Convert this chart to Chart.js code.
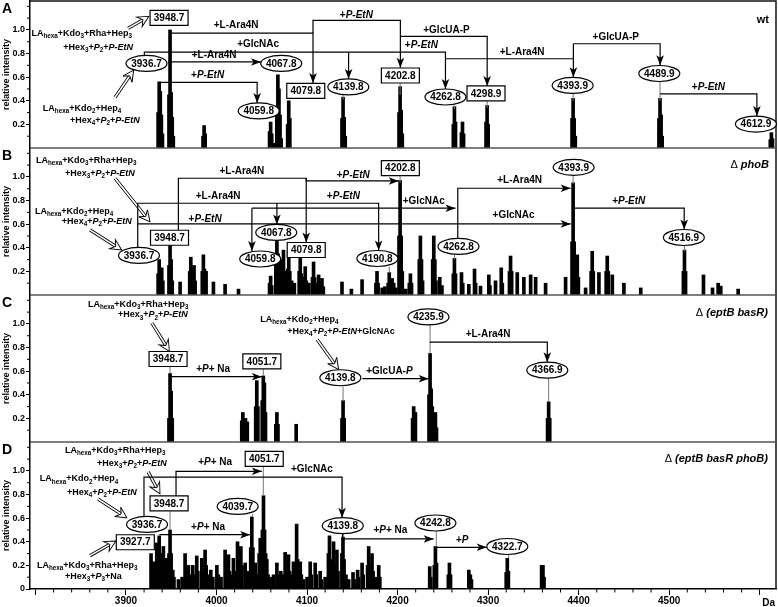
<!DOCTYPE html>
<html lang="en">
<head>
<meta charset="UTF-8">
<title>MALDI spectra A-D</title>
<script src="https://cdn.jsdelivr.net/npm/chart.js@4.4.7/dist/chart.umd.min.js"></script>
<style>
body { margin: 0; background: #fff; }
canvas { display: block; }
</style>
</head>
<body>
<canvas id="msChart" width="778" height="607"></canvas>
<script>
const FONT = "'Liberation Sans', Arial, Helvetica, sans-serif";

// axes
const xMin = 3794, xMax = 4618;
const xTicks = [3800, 3900, 4000, 4100, 4200, 4300, 4400, 4500, 4600];
const xTickLabels = ['', '3900', '4000', '4100', '4200', '4300', '4400', '4500', ''];
const xMinorStep = 20;
const yMax = 1.245;
const yTicks = [0.2, 0.4, 0.6, 0.8, 1.0];
const yMinorTicks = [0.1, 0.3, 0.5, 0.7, 0.9, 1.1, 1.2];
const panels = ['A', 'B', 'C', 'D'];

// peaks: mass (Da) and relative intensity
const massA = [3935.5, 3936.7, 3937.9, 3939.1, 3940.3, 3947.5, 3948.7, 3949.9, 3951.1, 3952.3,
  3985.1, 3986.3, 3987.5, 4058.6, 4059.8, 4061.0, 4063.0, 4066.6, 4067.8, 4069.0, 4070.2, 4071.4,
  4078.6, 4079.8, 4081.0, 4138.6, 4139.8, 4141.0, 4142.2, 4201.6, 4202.8, 4204.0, 4205.2,
  4261.6, 4262.8, 4264.0, 4270.5, 4271.7, 4272.9, 4297.7, 4298.9, 4300.1,
  4392.7, 4393.9, 4395.1, 4396.3, 4488.7, 4489.9, 4491.1, 4492.3, 4611.7, 4612.9, 4614.1];
const intA = [0.30, 0.56, 0.48, 0.28, 0.12, 0.45, 1.00, 0.47, 0.26, 0.10,
  0.10, 0.19, 0.12, 0.14, 0.22, 0.12, 0.04, 0.30, 0.62, 0.50, 0.28, 0.08,
  0.20, 0.40, 0.25, 0.25, 0.43, 0.26, 0.10, 0.30, 0.52, 0.32, 0.12,
  0.20, 0.35, 0.22, 0.13, 0.22, 0.12, 0.22, 0.36, 0.20,
  0.25, 0.42, 0.25, 0.10, 0.25, 0.42, 0.28, 0.10, 0.07, 0.13, 0.08];

const massB = [3935.5, 3936.7, 3937.9, 3939.5, 3940.7, 3947.5, 3948.7, 3949.9, 3951.1, 3959.8,
  3970.4, 3971.6, 3972.8, 3975.2, 3976.4, 3984.3, 3985.5, 3986.7, 3988.5, 3996.6, 4009.5, 4024.3,
  4058.6, 4059.8, 4061.0, 4065.5, 4066.7, 4067.9, 4070.4, 4072.0, 4074.0, 4075.2, 4078.6, 4079.8, 4081.0,
  4083.0, 4086.0, 4091.3, 4092.5, 4093.7, 4096.8, 4098.0, 4099.2, 4102.0, 4106.0, 4107.2, 4108.4,
  4111.6, 4112.8, 4114.0, 4116.5, 4118.0, 4138.6, 4149.0, 4160.8, 4176.1, 4177.3, 4178.5, 4183.0, 4186.0,
  4189.6, 4190.8, 4192.0, 4194.0, 4195.7, 4198.0, 4201.6, 4202.8, 4204.0, 4205.2,
  4209.0, 4213.0, 4214.2, 4215.4, 4224.0, 4225.2, 4226.4, 4227.6, 4238.8, 4240.0, 4241.2, 4242.4,
  4246.6, 4249.0, 4261.6, 4262.8, 4264.0, 4270.6, 4272.0, 4278.7, 4285.0, 4286.2, 4291.6,
  4300.8, 4302.0, 4308.2, 4314.5, 4315.7, 4323.6, 4324.8, 4326.0, 4332.2, 4339.5, 4347.0, 4352.5, 4363.5,
  4385.6, 4392.7, 4393.9, 4395.1, 4398.5, 4399.7, 4407.7, 4413.8, 4415.0, 4416.2, 4422.4,
  4430.4, 4431.6, 4432.8, 4437.2, 4450.0, 4468.6, 4515.7, 4516.9, 4518.1, 4537.9, 4547.9, 4554.1, 4557.0, 4576.2];
const intB = [0.18, 0.30, 0.22, 0.23, 0.12, 0.25, 0.42, 0.30, 0.12, 0.11,
  0.20, 0.32, 0.22, 0.25, 0.12, 0.20, 0.34, 0.22, 0.20, 0.11, 0.09, 0.05,
  0.10, 0.16, 0.08, 0.30, 0.48, 0.35, 0.30, 0.20, 0.38, 0.20, 0.22, 0.37, 0.20,
  0.12, 0.10, 0.20, 0.31, 0.18, 0.15, 0.24, 0.12, 0.10, 0.15, 0.28, 0.15,
  0.10, 0.17, 0.10, 0.14, 0.07, 0.11, 0.05, 0.13, 0.10, 0.20, 0.10, 0.06, 0.07,
  0.10, 0.19, 0.10, 0.14, 0.10, 0.06, 0.50, 0.97, 0.50, 0.20,
  0.05, 0.10, 0.18, 0.10, 0.30, 0.50, 0.30, 0.12, 0.30, 0.50, 0.30, 0.12,
  0.15, 0.08, 0.18, 0.31, 0.18, 0.19, 0.10, 0.09, 0.22, 0.10, 0.075,
  0.17, 0.08, 0.12, 0.23, 0.10, 0.20, 0.33, 0.20, 0.19, 0.15, 0.17, 0.15, 0.10,
  0.15, 0.45, 0.95, 0.45, 0.34, 0.15, 0.06, 0.20, 0.37, 0.20, 0.19,
  0.20, 0.33, 0.20, 0.17, 0.10, 0.06, 0.20, 0.38, 0.20, 0.17, 0.06, 0.10, 0.075, 0.05];

const massC = [3947.5, 3948.7, 3949.9, 3951.1, 4027.9, 4029.1, 4030.3, 4032.0, 4034.0,
  4043.3, 4044.5, 4045.7, 4050.5, 4051.7, 4052.9, 4054.1, 4065.5, 4066.7, 4067.9, 4088.0,
  4138.6, 4139.8, 4141.0, 4216.6, 4217.8, 4219.7, 4234.7, 4235.9, 4237.1, 4238.3, 4240.5, 4241.8, 4243.0,
  4365.7, 4366.9, 4368.1];
const intC = [0.20, 0.58, 0.43, 0.20, 0.18, 0.25, 0.15, 0.20, 0.17,
  0.30, 0.52, 0.30, 0.35, 0.56, 0.50, 0.25, 0.15, 0.25, 0.15, 0.15,
  0.20, 0.35, 0.20, 0.20, 0.30, 0.25, 0.40, 0.75, 0.45, 0.30, 0.20, 0.25, 0.12,
  0.20, 0.34, 0.20];

const massD = [3927.7, 3929.0, 3930.3, 3932.0, 3934.0, 3935.2, 3936.7, 3937.9, 3939.5, 3941.3, 3942.5,
  3945.0, 3946.2, 3947.5, 3948.7, 3949.9, 3951.7, 3953.0, 3958.0, 3962.0,
  3965.3, 3966.5, 3969.0, 3971.0, 3973.8, 3975.0, 3978.2, 3979.4, 3983.8, 3985.0, 3987.4, 3988.6,
  3990.5, 3993.7, 3996.0, 4000.4, 4002.0, 4005.0, 4009.5, 4010.7, 4013.2, 4014.4, 4016.0, 4018.7, 4020.0,
  4023.2, 4024.4, 4026.9, 4028.1, 4031.7, 4033.0, 4035.0, 4037.8, 4039.0, 4040.2, 4042.7, 4044.0,
  4047.1, 4048.3, 4049.5, 4050.7, 4051.9, 4053.1, 4054.3, 4055.6, 4057.0,
  4060.0, 4063.0, 4066.7, 4068.0, 4071.0, 4073.0, 4075.8, 4077.0, 4079.5, 4080.7, 4082.0,
  4085.0, 4086.2, 4088.5, 4089.7, 4092.5, 4093.7, 4096.0, 4100.0, 4103.5, 4104.7, 4109.0, 4110.2,
  4114.5, 4116.0, 4120.0, 4123.6, 4124.8, 4126.0, 4129.3, 4130.5, 4133.0, 4134.2,
  4138.5, 4139.7, 4140.9, 4143.0, 4146.0, 4150.8, 4152.0, 4155.9, 4157.0, 4160.8, 4162.0,
  4166.9, 4168.1, 4169.3, 4171.8, 4173.0, 4176.0, 4179.2, 4180.4,
  4235.5, 4236.7, 4240.6, 4241.8, 4243.0, 4256.1, 4257.3, 4258.5, 4278.7, 4280.4, 4281.6,
  4320.0, 4321.2, 4322.4, 4359.1, 4360.6, 4361.8];
const intD = [0.30, 0.20, 0.23, 0.15, 0.39, 0.25, 0.45, 0.30, 0.20, 0.36, 0.20,
  0.26, 0.15, 0.30, 0.50, 0.30, 0.16, 0.10, 0.08, 0.10,
  0.30, 0.18, 0.20, 0.12, 0.20, 0.12, 0.28, 0.15, 0.26, 0.15, 0.33, 0.20,
  0.12, 0.16, 0.10, 0.20, 0.12, 0.10, 0.33, 0.20, 0.29, 0.15, 0.12, 0.26, 0.15,
  0.40, 0.25, 0.36, 0.20, 0.22, 0.12, 0.15, 0.35, 0.61, 0.35, 0.22, 0.12,
  0.30, 0.43, 0.30, 0.50, 0.79, 0.50, 0.30, 0.25, 0.12,
  0.10, 0.12, 0.22, 0.12, 0.15, 0.12, 0.31, 0.18, 0.29, 0.15, 0.12,
  0.23, 0.12, 0.55, 0.25, 0.23, 0.12, 0.08, 0.10, 0.23, 0.12, 0.22, 0.12,
  0.15, 0.08, 0.10, 0.30, 0.45, 0.25, 0.40, 0.20, 0.33, 0.15,
  0.30, 0.44, 0.25, 0.12, 0.08, 0.14, 0.08, 0.16, 0.10, 0.22, 0.12,
  0.20, 0.36, 0.20, 0.30, 0.15, 0.10, 0.20, 0.10,
  0.19, 0.10, 0.20, 0.36, 0.22, 0.12, 0.22, 0.12, 0.16, 0.12, 0.08,
  0.14, 0.26, 0.15, 0.20, 0.20, 0.10];

// annotations, in (mass, intensity) of their own panel
// mass tags: [text, shape, mass, intensity]
const tagsA = [['3948.7', 'box', 3947.6, 1.102], ['3936.7', 'oval', 3922.7, 0.716], ['4067.8', 'oval', 4071.5, 0.716],
  ['4059.8', 'oval', 4046.6, 0.314], ['4079.8', 'box', 4098.6, 0.483], ['4139.8', 'oval', 4145.6, 0.517],
  ['4202.8', 'box', 4203.1, 0.614], ['4262.8', 'oval', 4252.9, 0.432], ['4298.9', 'box', 4297.7, 0.462],
  ['4393.9', 'oval', 4393.4, 0.530], ['4489.9', 'oval', 4489.1, 0.631], ['4612.9', 'oval', 4595.8, 0.203]];
const tagsB = [['3936.7', 'oval', 3914.4, 0.335], ['3948.7', 'box', 3948.1, 0.485], ['4067.8', 'oval', 4066.0, 0.530],
  ['4059.8', 'oval', 4048.3, 0.305], ['4079.8', 'box', 4099.1, 0.381], ['4190.8', 'oval', 4177.7, 0.309],
  ['4202.8', 'box', 4203.1, 1.074], ['4262.8', 'oval', 4267.3, 0.411], ['4393.9', 'oval', 4394.5, 1.081],
  ['4516.9', 'oval', 4516.2, 0.487]];
const tagsC = [['3948.7', 'box', 3946.5, 0.703], ['4051.7', 'box', 4050.1, 0.682], ['4139.8', 'oval', 4136.8, 0.544],
  ['4235.9', 'oval', 4234.1, 1.059], ['4366.9', 'oval', 4365.4, 0.608]];
const tagsD = [['3936.7', 'oval', 3923.3, 0.547], ['3948.7', 'box', 3947.6, 0.725], ['3927.7', 'box', 3910.3, 0.396],
  ['4051.7', 'box', 4052.7, 1.102], ['4039.7', 'oval', 4023.4, 0.699], ['4139.8', 'oval', 4139.5, 0.536],
  ['4242.8', 'oval', 4241.8, 0.559], ['4322.7', 'oval', 4321.2, 0.360]];

// connectors: [points, arrow at end]
const linksA = [
  [[[3948.7, 0.973], [4106.6, 0.973], [4106.6, 0.55]], true],
  [[[4106.6, 0.973], [4106.6, 1.081], [4203.1, 1.081], [4203.1, 0.68]], true],
  [[[3920.3, 0.784], [3920.3, 0.812], [4252.9, 0.812], [4252.9, 0.50]], true],
  [[[4145.9, 0.812], [4145.9, 0.585]], true],
  [[[4203.1, 0.945], [4299.0, 0.945], [4299.0, 0.526]], true],
  [[[4252.9, 0.756], [4394.2, 0.756]], false],
  [[[4394.2, 0.883], [4394.2, 0.60]], true],
  [[[4394.2, 0.883], [4490.0, 0.883], [4490.0, 0.70]], true],
  [[[4490.0, 0.459], [4596.9, 0.459], [4596.9, 0.271]], true],
  [[[3936.7, 0.555], [4044.9, 0.555], [4044.9, 0.382]], true],
  [[[3946.5, 0.729], [4049.2, 0.729]], true]];
const linksB = [
  [[[3957.9, 0.549], [3957.9, 0.989], [4099.1, 0.989], [4099.1, 0.445]], true],
  [[[4099.1, 0.989], [4099.1, 0.966], [4201.3, 0.966]], true],
  [[[3913.0, 0.403], [3913.0, 0.777], [4179.1, 0.777], [4179.1, 0.377]], true],
  [[[4066.7, 0.777], [4066.7, 0.598]], true],
  [[[3913.0, 0.602], [4391.2, 0.602]], true],
  [[[4039.1, 0.735], [4264.0, 0.735]], true],
  [[[4039.1, 0.735], [4039.1, 0.373]], true],
  [[[4266.5, 0.479], [4266.5, 0.904], [4391.2, 0.904]], true],
  [[[4394.2, 0.735], [4516.6, 0.735], [4516.6, 0.555]], true]];
const linksC = [
  [[[3948.7, 0.553], [4050.1, 0.553]], true],
  [[[4161.1, 0.536], [4234.4, 0.536]], true],
  [[[4235.5, 0.846], [4365.4, 0.846], [4365.4, 0.676]], true]];
const linksD = [
  [[[3955.3, 0.789], [3955.3, 0.997], [4050.1, 0.997]], true],
  [[[3919.9, 0.615], [3919.9, 0.947], [4138.7, 0.947], [4138.7, 0.604]], true],
  [[[3936.9, 0.460], [4037.2, 0.460]], true],
  [[[4139.3, 0.468], [4139.3, 0.424], [4239.9, 0.424]], true],
  [[[4242.9, 0.353], [4298.5, 0.353]], true]];

// text: [text, mass, intensity, align]  (_{..} subscript, *..* italic, #..# regular weight)
const notesA = [['+L-Ara4N', 4021.7, 1.038, 'center'], ['+*P-EtN*', 4154.5, 1.123, 'center'],
  ['+GlcNAc', 4046.0, 0.877, 'center'], ['+*P-EtN*', 4226.3, 0.869, 'center'],
  ['+GlcUA-P', 4254.0, 0.996, 'center'], ['+L-Ara4N', 4337.5, 0.814, 'center'],
  ['+GlcUA-P', 4441.0, 0.939, 'center'], ['+*P-EtN*', 4543.3, 0.515, 'center'],
  ['+*P-EtN*', 3990.2, 0.614, 'center'], ['+L-Ara4N', 3997.4, 0.784, 'center'],
  ['wt', 4610.2, 1.081, 'right'],
  ['LA_{hexa}+Kdo_{3}+Rha+Hep_{3}', 3906.7, 0.970, 'right'], ['+Hex_{3}+*P*_{2}+*P-EtN*', 3907.8, 0.852, 'right'],
  ['LA_{hexa}+Kdo_{2}+Hep_{4}', 3808.2, 0.335, 'left'], ['+Hex_{4}+*P*_{2}+*P-EtN*', 3838.1, 0.233, 'left']];
const notesB = [['+L-Ara4N', 4028.0, 1.045, 'center'], ['+*P-EtN*', 4151.1, 1.017, 'center'],
  ['+L-Ara4N', 4001.8, 0.833, 'center'], ['+*P-EtN*', 4140.1, 0.833, 'center'],
  ['+*P-EtN*', 3987.4, 0.644, 'center'], ['+GlcNAc', 4228.9, 0.791, 'center'],
  ['+GlcNAc', 4328.1, 0.678, 'center'], ['+L-Ara4N', 4334.8, 0.975, 'center'],
  ['+*P-EtN*', 4455.3, 0.791, 'center'], ['#\u0394# *phoB*', 4610.2, 1.102, 'right'],
  ['LA_{hexa}+Kdo_{3}+Rha+Hep_{3}', 3800.5, 1.138, 'left'], ['+Hex_{3}+*P*_{2}+*P-EtN*', 3832.6, 1.031, 'left'],
  ['LA_{hexa}+Kdo_{2}+Hep_{4}', 3799.4, 0.706, 'left'], ['+Hex_{4}+*P*_{2}+*P-EtN*', 3829.2, 0.621, 'left']];
const notesC = [['+*P*+ Na', 3996.3, 0.614, 'center'], ['+GlcUA-*P*', 4191.0, 0.600, 'center'],
  ['+L-Ara4N', 4299.9, 0.911, 'center'], ['#\u0394# *(eptB basR)*', 4609.1, 1.095, 'right'],
  ['LA_{hexa}+Kdo_{3}+Rha+Hep_{3}', 3858.0, 1.165, 'left'], ['+Hex_{3}+*P*_{2}+*P-EtN*', 3891.2, 1.076, 'left'],
  ['LA_{hexa}+Kdo_{2}+Hep_{4}', 4048.3, 1.038, 'left'], ['+Hex_{4}+*P*_{2}+*P-EtN*+GlcNAc', 4078.1, 0.939, 'left']];
const notesD = [['+*P*+ Na', 3998.5, 1.074, 'center'], ['+GlcNAc', 4105.4, 1.017, 'center'],
  ['+*P*+ Na', 3990.7, 0.523, 'center'], ['+*P*+ Na', 4192.1, 0.494, 'center'],
  ['+*P*', 4271.4, 0.415, 'center'], ['#\u0394# *(eptB basR phoB)*', 4609.1, 1.102, 'right'],
  ['LA_{hexa}+Kdo_{3}+Rha+Hep_{3}', 3832.6, 1.172, 'left'], ['+Hex_{3}+*P*_{2}+*P-EtN*', 3868.0, 1.065, 'left'],
  ['LA_{hexa}+Kdo_{2}+Hep_{4}', 3804.9, 0.932, 'left'], ['+Hex_{4}+*P*_{2}+*P-EtN*', 3834.8, 0.819, 'left'],
  ['LA_{hexa}+Kdo_{3}+Rha+Hep_{3}', 3801.6, 0.197, 'left'], ['+Hex_{3}+*P*_{3}+Na', 3832.6, 0.104, 'left']];

// open arrows from structure text: [mass1, int1, mass2, int2]
const pointersA = [[3902.2, 1.013, 3925.4, 1.115], [3887.9, 0.428, 3908.5, 0.66]];
const pointersB = [[3887.9, 0.989, 3926.6, 0.619], [3860.2, 0.551, 3895.3, 0.381]];
const pointersC = [[3928.5, 1.010, 3948.0, 0.767], [4111.0, 0.869, 4134.9, 0.614]];
const pointersD = [[3924.4, 0.992, 3937.6, 0.805], [3869.0, 0.763, 3901.1, 0.602], [3860.2, 0.282, 3888.9, 0.407]];

// thin lines from a tag down to its peak: [mass, from, to]
const leadersA = [[4202.8, 0.55, 0.45], [4393.9, 0.46, 0.40], [4489.9, 0.56, 0.40], [4262.8, 0.36, 0.33], [4298.9, 0.40, 0.34], [4139.8, 0.45, 0.41]];
const leadersB = [[4202.8, 1.01, 0.95], [4393.9, 1.013, 0.94], [4516.9, 0.419, 0.37], [4262.8, 0.343, 0.30], [4190.8, 0.241, 0.19]];
const leadersC = [[3948.7, 0.64, 0.58], [4051.7, 0.62, 0.56], [4139.8, 0.47, 0.35], [4235.9, 0.99, 0.75], [4366.9, 0.54, 0.34]];
const leadersD = [[4051.7, 1.038, 0.79], [3948.7, 0.658, 0.5], [4242.8, 0.491, 0.36], [4322.7, 0.292, 0.26], [4139.8, 0.468, 0.44], [4039.7, 0.635, 0.61]];

const peakMass = {A: massA, B: massB, C: massC, D: massD};
const peakInt = {A: intA, B: intB, C: intC, D: intD};
const tags = {A: tagsA, B: tagsB, C: tagsC, D: tagsD};
const links = {A: linksA, B: linksB, C: linksC, D: linksD};
const notes = {A: notesA, B: notesB, C: notesC, D: notesD};
const pointers = {A: pointersA, B: pointersB, C: pointersC, D: pointersD};
const leaders = {A: leadersA, B: leadersB, C: leadersC, D: leadersD};

function parseRich(str) {
  const out = [];
  let it = false, reg = false, buf = '', i = 0;
  const flush = (sub) => { if (buf) out.push({t: buf, it, reg, sub}); buf = ''; };
  while (i < str.length) {
    const c = str[i];
    if (c === '*') { flush(false); it = !it; i++; }
    else if (c === '#') { flush(false); reg = !reg; i++; }
    else if (c === '_' && str[i + 1] === '{') {
      flush(false);
      const j = str.indexOf('}', i);
      buf = str.slice(i + 2, j); flush(true); i = j + 1;
    } else { buf += c; i++; }
  }
  flush(false);
  return out;
}

function drawRich(ctx, str, x, y, align, size) {
  const segs = parseRich(str);
  const fontOf = s => (s.it ? 'italic ' : '') + (s.reg ? '' : 'bold ') + (s.sub ? size * 0.7 : size) + 'px ' + FONT;
  let w = 0;
  segs.forEach(s => { ctx.font = fontOf(s); s.w = ctx.measureText(s.t).width; w += s.w; });
  let cx = align === 'right' ? x - w : align === 'center' ? x - w / 2 : x;
  ctx.textAlign = 'left';
  ctx.textBaseline = 'middle';
  segs.forEach(s => {
    ctx.font = fontOf(s);
    ctx.fillText(s.t, cx, y + (s.sub ? size * 0.32 : 0));
    cx += s.w;
  });
}

function arrowHead(ctx, a, b) {
  const ang = Math.atan2(b[1] - a[1], b[0] - a[0]);
  ctx.save();
  ctx.translate(b[0], b[1]);
  ctx.rotate(ang);
  ctx.beginPath();
  ctx.moveTo(0, 0);
  ctx.lineTo(-10, -3.8);
  ctx.lineTo(-7.5, 0);
  ctx.lineTo(-10, 3.8);
  ctx.closePath();
  ctx.fill();
  ctx.restore();
}

function openArrow(ctx, a, b) {
  const ang = Math.atan2(b[1] - a[1], b[0] - a[0]);
  const len = Math.hypot(b[0] - a[0], b[1] - a[1]);
  ctx.save();
  ctx.translate(b[0], b[1]);
  ctx.rotate(ang);
  ctx.beginPath();
  ctx.moveTo(-len, -1.2); ctx.lineTo(-7, -1.2);
  ctx.moveTo(-len, 1.2); ctx.lineTo(-7, 1.2);
  ctx.stroke();
  ctx.beginPath();
  ctx.moveTo(0, 0);
  ctx.lineTo(-11, -5.5);
  ctx.lineTo(-7, 0);
  ctx.lineTo(-11, 5.5);
  ctx.closePath();
  ctx.fillStyle = '#fff';
  ctx.fill();
  ctx.stroke();
  ctx.restore();
}

const overlay = {
  id: 'overlay',
  afterDraw(chart) {
    const ctx = chart.ctx, xs = chart.scales.x, area = chart.chartArea;
    const X = m => xs.getPixelForValue(m);
    ctx.save();
    ctx.strokeStyle = '#000';
    ctx.fillStyle = '#000';

    // minor ticks
    ctx.lineWidth = 1;
    ctx.beginPath();
    for (let m = xTicks[0]; m <= xMax; m += xMinorStep) {
      if (xTicks.includes(m)) continue;
      ctx.moveTo(X(m), xs.top); ctx.lineTo(X(m), xs.top + 3.5);
    }
    panels.forEach(p => {
      const ys = chart.scales['y' + p];
      yMinorTicks.forEach(v => {
        const y = ys.getPixelForValue(v);
        ctx.moveTo(ys.right - 3, y); ctx.lineTo(ys.right, y);
      });
    });
    ctx.stroke();

    // frame and panel separators
    ctx.lineWidth = 1.5;
    ctx.strokeStyle = '#111';
    ctx.beginPath();
    ctx.moveTo(area.left, area.top); ctx.lineTo(area.right, area.top); ctx.lineTo(area.right, area.bottom);
    ctx.stroke();
    ctx.strokeStyle = '#555';
    ctx.beginPath();
    ['A', 'B', 'C'].forEach(p => {
      const y = chart.scales['y' + p].bottom;
      ctx.moveTo(area.left, y); ctx.lineTo(area.right, y);
    });
    ctx.stroke();

    // panel letters and unit
    ctx.fillStyle = '#000';
    ctx.textAlign = 'left';
    ctx.textBaseline = 'middle';
    ctx.font = 'bold 14px ' + FONT;
    panels.forEach(p => ctx.fillText(p, 2, chart.scales['y' + p].top + 8));
    ctx.font = 'bold 10px ' + FONT;
    ctx.textAlign = 'right';
    ctx.fillText('Da', xs.right - 1, xs.top + 14);

    panels.forEach(p => {
      const ys = chart.scales['y' + p];
      const P = (m, v) => [X(m), ys.getPixelForValue(v)];

      // leaders
      ctx.strokeStyle = '#777';
      ctx.lineWidth = 1;
      ctx.beginPath();
      leaders[p].forEach(([m, v1, v2]) => {
        const a = P(m, v1), b = P(m, v2);
        ctx.moveTo(a[0], a[1]); ctx.lineTo(b[0], b[1]);
      });
      ctx.stroke();

      // connectors
      ctx.strokeStyle = '#000';
      ctx.fillStyle = '#000';
      ctx.lineWidth = 1.2;
      links[p].forEach(([pts, arrow]) => {
        const px = pts.map(q => P(q[0], q[1]));
        ctx.beginPath();
        ctx.moveTo(px[0][0], px[0][1]);
        px.slice(1).forEach(q => ctx.lineTo(q[0], q[1]));
        ctx.stroke();
        if (arrow) arrowHead(ctx, px[px.length - 2], px[px.length - 1]);
      });

      // open arrows
      ctx.lineWidth = 0.9;
      pointers[p].forEach(([m1, v1, m2, v2]) => openArrow(ctx, P(m1, v1), P(m2, v2)));

      // mass tags
      tags[p].forEach(([text, shape, m, v]) => {
        const [cx, cy] = P(m, v);
        ctx.beginPath();
        if (shape === 'box') ctx.rect(cx - 19, cy - 7.5, 38, 15);
        else ctx.ellipse(cx, cy, 20.5, 8, 0, 0, Math.PI * 2);
        ctx.fillStyle = '#fff';
        ctx.fill();
        ctx.strokeStyle = '#000';
        ctx.lineWidth = 1.2;
        ctx.stroke();
        ctx.fillStyle = '#000';
        ctx.font = 'bold 10px ' + FONT;
        ctx.textAlign = 'center';
        ctx.textBaseline = 'middle';
        ctx.fillText(text, cx, cy + 0.5);
      });

      // text
      ctx.fillStyle = '#000';
      notes[p].forEach(([text, m, v, align]) => {
        const [x, y] = P(m, v);
        const size = text.includes('_{') ? 9 : (text.includes('\u0394') || text === 'wt') ? 11 : 10;
        drawRich(ctx, text, x, y, align, size);
      });
    });
    ctx.restore();
  }
};

function yAxis(withZero) {
  return {
    type: 'linear',
    position: 'left',
    stack: 'spectra',
    stackWeight: 1,
    min: 0,
    max: yMax,
    afterBuildTicks: s => { s.ticks = (withZero ? [0].concat(yTicks) : yTicks).map(v => ({value: v})); },
    afterFit: s => { s.width = 30; s.paddingTop = 0; s.paddingBottom = 0; },
    ticks: {
      color: '#000',
      padding: 1,
      font: {family: FONT, size: 9, weight: 'bold'},
      callback: v => (v === 0 ? '0' : v.toFixed(1))
    },
    grid: {drawOnChartArea: false, tickLength: 4, color: '#000'},
    border: {color: '#000', width: 1.5},
    title: {
      display: true,
      text: 'relative intensity',
      color: '#000',
      font: {family: FONT, size: 9, weight: 'bold'},
      padding: {top: 1, bottom: 0}
    }
  };
}

new Chart(document.getElementById('msChart'), {
  type: 'bar',
  data: {
    datasets: panels.map(p => ({
      label: 'Panel ' + p,
      data: peakMass[p].map((m, i) => ({x: m, y: peakInt[p][i]})),
      xAxisID: 'x',
      yAxisID: 'y' + p,
      backgroundColor: '#000',
      borderWidth: 0,
      barThickness: 3,
      grouped: false
    }))
  },
  options: {
    responsive: false,
    animation: false,
    layout: {padding: {top: 1, right: 2, left: 0, bottom: 0}},
    plugins: {legend: {display: false}, tooltip: {enabled: false}},
    scales: {
      x: {
        type: 'linear',
        position: 'bottom',
        min: xMin,
        max: xMax,
        offset: false,
        afterBuildTicks: s => { s.ticks = xTicks.map(v => ({value: v})); },
        afterFit: s => { s.height = 18; s.paddingLeft = 0; s.paddingRight = 0; },
        ticks: {
          autoSkip: false,
          maxRotation: 0,
          color: '#000',
          padding: 0,
          font: {family: FONT, size: 10, weight: 'bold'},
          callback: v => xTickLabels[xTicks.indexOf(v)] || ''
        },
        grid: {drawOnChartArea: false, offset: false, tickLength: 6, color: '#000'},
        border: {color: '#000', width: 1.5}
      },
      yD: yAxis(true),
      yC: yAxis(false),
      yB: yAxis(false),
      yA: yAxis(false)
    }
  },
  plugins: [overlay]
});
</script>
</body>
</html>
